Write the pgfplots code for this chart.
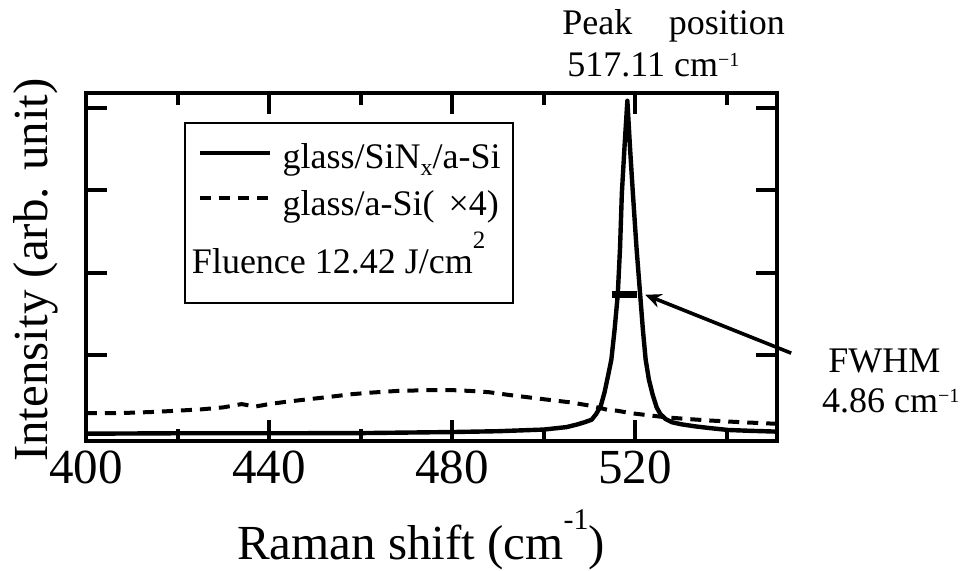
\documentclass[border=0pt]{standalone}
\usepackage{fontspec}
\setmainfont{Liberation Serif}
\usepackage{pgfplots}
\pgfplotsset{compat=1.18}
\usetikzlibrary{arrows.meta}

\newcommand\bigfont{\fontsize{24.5}{24.5}\selectfont}
\newcommand\smfont{\fontsize{18}{18}\selectfont}

\begin{document}
\begin{tikzpicture}
\path[use as bounding box] (-43pt,-65pt) rectangle (446.5pt,220.5pt);
\begin{axis}[
  at={(0pt,0pt)}, anchor=south west,
  scale only axis, width=345.5pt, height=174pt,
  xmin=400, xmax=551, ymin=-0.049, ymax=4.185,
  clip=false,
  axis line style={line width=2.2pt},
  every tick/.style={line width=2pt, black},
  major tick length=10.5pt, minor tick length=6pt,
  tick align=inside,
  xtick={400,440,480,520}, minor xtick={420,460,500,540},
  ytick={1,2,3,4}, yticklabels={},
  /pgf/number format/assume math mode=true,
  xticklabel style={font=\bigfont, anchor=base, yshift=-21.5pt},
  legend style={at={(rel axis cs:0.1418,0.9167)}, anchor=north west,
    draw=black, line width=1pt, inner xsep=4pt, inner ysep=5pt,
    row sep=0pt, font=\smfont,
    /tikz/every odd column/.append style={column sep=3.3pt}},
  legend cell align=left,
  legend image code/.code={\path (0pt,0pt); \draw[#1] (2.3pt,0.5pt) -- (37.3pt,0.5pt);},
]
% glass/SiNx/a-Si
\addplot[black, line width=2.2pt, line join=round] coordinates {
  (400,0.040)(420,0.045)(440,0.045)(460,0.047)(480,0.060)(490,0.070)
  (500,0.090)(505,0.120)(507.2,0.150)(509,0.180)(510.5,0.210)(511.5,0.280)
  (512.5,0.380)(513.3,0.540)(514.1,0.750)(514.8,0.940)(515.5,1.300)
  (516.2,1.730)(516.7,2.300)(517.1,2.970)(517.7,3.550)(518.3,4.090)
  (518.9,3.500)(519.5,2.970)(520.3,2.300)(521.1,1.730)(521.7,1.300)
  (522.3,0.940)(523.0,0.700)(523.8,0.520)(524.7,0.360)(525.5,0.280)
  (526.6,0.220)(528,0.180)(530,0.155)(533,0.130)(536,0.110)(540.3,0.085)
  (545,0.075)(551,0.065)};
\addlegendentry{\rule[-5pt]{0pt}{20.7pt}glass/SiN\raisebox{-3.5pt}{\fontsize{12}{12}\selectfont x}/a-Si}
% glass/a-Si (x4)
\addplot[black, line width=2pt, dash pattern=on 5.5pt off 4pt] coordinates {
  (400,0.29)(405,0.29)(410,0.295)(415,0.305)(420,0.32)(425,0.335)(430,0.36)
  (434,0.40)(437,0.37)(440,0.40)(444,0.43)(448,0.455)(453.5,0.49)(458,0.52)
  (462.4,0.54)(468,0.56)(475,0.57)(480,0.57)(484,0.56)(488,0.545)(492.6,0.51)
  (497,0.48)(501.4,0.45)(506,0.42)(510.2,0.38)(514,0.33)(516,0.32)(519,0.29)
  (522,0.27)(526.6,0.24)(531,0.22)(536.4,0.20)(543,0.18)(551,0.16)};
\addlegendentry{\rule[-5pt]{0pt}{23.3pt}glass/a-Si(\hspace{7pt}×4)}
\addlegendimage{empty legend}
\addlegendentry{\rule{0pt}{23.3pt}\hspace*{-45.3pt}Fluence 12.42 J/cm\raisebox{12.5pt}{\fontsize{12.5}{12.5}\selectfont 2}}
\addlegendimage{empty legend}
\addlegendentry{\rule{0pt}{0.5pt}}
% FWHM bar
\addplot[black, line width=3.3pt, forget plot] coordinates {(515.0,1.73)(520.3,1.73)};
\draw[line width=1.8pt, -{Stealth[length=8pt,width=7pt]}] (axis cs:554.1,1.02) -- (axis cs:522.2,1.73);
\end{axis}
% axis labels
\node[anchor=base, font=\bigfont] at (167.5pt,-59.5pt)
  {Raman shift (cm\raisebox{15pt}{\fontsize{15}{15}\selectfont -1})};
\node[anchor=base, rotate=90, font=\bigfont] at (-19pt,85.5pt) {Intensity (arb. unit)};
% annotations
\node[anchor=base west, inner sep=0pt, font=\smfont] at (238pt,203pt) {Peak\hspace{18.3pt}position};
\node[anchor=base west, inner sep=0pt, font=\smfont] at (240.5pt,182pt)
  {517.11 cm\raisebox{5.3pt}{\fontsize{10}{10}\selectfont −1}};
\node[anchor=base west, inner sep=0pt, font=\smfont] at (371pt,34pt) {FWHM};
\node[anchor=base west, inner sep=0pt, font=\smfont] at (367.9pt,14pt)
  {4.86 cm\raisebox{5.3pt}{\fontsize{10}{10}\selectfont −1}};
\end{tikzpicture}
\end{document}
